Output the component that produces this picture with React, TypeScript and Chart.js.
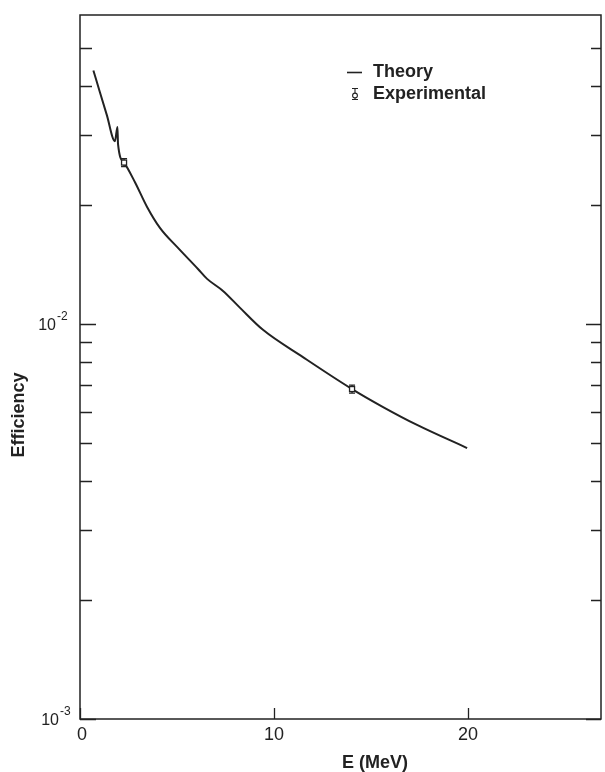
import React, { useEffect, useRef } from "react";
import { Chart, registerables } from "chart.js";

Chart.register(...registerables);

// Theory curve (E in MeV, efficiency)
const theoryE = [0.69, 1.03, 1.38, 1.80, 1.93, 1.96, 2.27, 2.84, 3.45, 4.12, 5.05, 6.08, 6.55, 7.37, 8.25, 9.43, 11.49, 14.02, 15.62, 17.37, 19.95];
const theoryEff = [0.0438, 0.0385, 0.0338, 0.0290, 0.0315, 0.0285, 0.0256, 0.0228, 0.0198, 0.0175, 0.01557, 0.01377, 0.0130, 0.01212, 0.01098, 0.00966, 0.00824, 0.00684, 0.00616, 0.00555, 0.00485];

// Experimental points
const expE = [2.27, 14.02];
const expEff = [0.0256, 0.00684];
const expErr = [0.00045, 0.00012];

// Axis ticks
const xTicks = [0, 10, 20];
const xTickLabels = ["0", "10", "20"];
const yMajor = [0.001, 0.01];
const yMajorExp = ["-3", "-2"];
const yMinor = [0.002, 0.003, 0.004, 0.005, 0.006, 0.007, 0.008, 0.009, 0.02, 0.03, 0.04, 0.05];

const INK = "#222";
const FONT = "'Liberation Sans', Arial, Helvetica, sans-serif";

const framePlugin = {
  id: "frame",
  afterDatasetsDraw(chart: any) {
    const { ctx, scales } = chart;
    const x = scales.x, y = scales.y;
    ctx.save();
    ctx.strokeStyle = INK;
    ctx.fillStyle = "#fff";
    ctx.lineWidth = 1.3;
    for (let i = 0; i < expE.length; i++) {
      const px = x.getPixelForValue(expE[i]);
      const py = y.getPixelForValue(expEff[i]);
      const top = y.getPixelForValue(expEff[i] + expErr[i]);
      const bot = y.getPixelForValue(expEff[i] - expErr[i]);
      ctx.beginPath();
      ctx.moveTo(px, top - 1); ctx.lineTo(px, bot + 1);
      ctx.moveTo(px - 3, top - 1); ctx.lineTo(px + 3, top - 1);
      ctx.moveTo(px - 3, bot + 1); ctx.lineTo(px + 3, bot + 1);
      ctx.stroke();
      ctx.fillRect(px - 2.5, py - 2.5, 5, 5);
      ctx.strokeRect(px - 2.5, py - 2.5, 5, 5);
    }
    ctx.restore();
  },
  afterDraw(chart: any) {
    const { ctx, chartArea: a, scales } = chart;
    const x = scales.x, y = scales.y;
    ctx.save();
    ctx.strokeStyle = INK;
    ctx.lineWidth = 1.5;
    ctx.strokeRect(a.left, a.top, a.right - a.left, a.bottom - a.top);
    ctx.lineWidth = 1.3;
    ctx.beginPath();
    for (const v of yMinor) {
      const py = Math.round(y.getPixelForValue(v)) + 0.5;
      ctx.moveTo(a.left, py); ctx.lineTo(a.left + 12, py);
      ctx.moveTo(a.right, py); ctx.lineTo(a.right - 10, py);
    }
    for (const v of yMajor) {
      const py = Math.round(y.getPixelForValue(v)) + 0.5;
      ctx.moveTo(a.left, py); ctx.lineTo(a.left + 16, py);
      ctx.moveTo(a.right, py); ctx.lineTo(a.right - 15, py);
    }
    for (const v of xTicks) {
      const px = Math.round(x.getPixelForValue(v)) + 0.5;
      ctx.moveTo(px, a.bottom); ctx.lineTo(px, a.bottom - 11);
    }
    ctx.stroke();

    ctx.fillStyle = INK;
    // y tick labels with superscripts
    for (let i = 0; i < yMajor.length; i++) {
      const py = y.getPixelForValue(yMajor[i]);
      ctx.font = `16px ${FONT}`;
      ctx.textAlign = "right";
      ctx.textBaseline = "middle";
      const baseRight = i === 0 ? a.left - 21 : a.left - 24;
      ctx.fillText("10", baseRight, py + 2);
      ctx.font = `12px ${FONT}`;
      ctx.textAlign = "left";
      ctx.fillText(yMajorExp[i], baseRight + 1, py - 7);
    }
    // x tick labels
    ctx.font = `18px ${FONT}`;
    ctx.textAlign = "center";
    ctx.textBaseline = "middle";
    for (let i = 0; i < xTicks.length; i++) {
      const px = x.getPixelForValue(xTicks[i]);
      ctx.fillText(xTickLabels[i], px + (i === 0 ? 2 : 0), a.bottom + 16);
    }
    // axis titles
    ctx.font = `bold 18px ${FONT}`;
    ctx.fillText("E (MeV)", 375, 763);
    ctx.save();
    ctx.translate(19, 415);
    ctx.rotate(-Math.PI / 2);
    ctx.fillText("Efficiency", 0, 0);
    ctx.restore();

    // legend
    ctx.textAlign = "left";
    ctx.font = `bold 18px ${FONT}`;
    ctx.fillText("Theory", 373, 72);
    ctx.fillText("Experimental", 373, 94);
    ctx.lineWidth = 1.6;
    ctx.beginPath();
    ctx.moveTo(347, 72.5); ctx.lineTo(362, 72.5);
    ctx.stroke();
    ctx.lineWidth = 1.1;
    ctx.beginPath();
    ctx.moveTo(352, 88.5); ctx.lineTo(358, 88.5);
    ctx.moveTo(352, 99.5); ctx.lineTo(358, 99.5);
    ctx.moveTo(355, 88.5); ctx.lineTo(355, 93);
    ctx.moveTo(355, 98); ctx.lineTo(355, 99.5);
    ctx.stroke();
    ctx.beginPath();
    ctx.arc(355, 95.5, 2.4, 0, Math.PI * 2);
    ctx.stroke();
    ctx.restore();
  },
};

export default function App() {
  const ref = useRef<HTMLCanvasElement>(null);
  useEffect(() => {
    if (!ref.current) return;
    const chart = new Chart(ref.current, {
      type: "scatter",
      data: {
        datasets: [
          {
            label: "Theory",
            data: theoryE.map((e, i) => ({ x: e, y: theoryEff[i] })),
            showLine: true,
            borderColor: INK,
            borderWidth: 2,
            pointRadius: 0,
            cubicInterpolationMode: "monotone",
            fill: false,
          } as any,
        ],
      },
      options: {
        animation: false,
        responsive: false,
        layout: { padding: { left: 80, top: 15, right: 4, bottom: 53 } },
        plugins: { legend: { display: false }, tooltip: { enabled: false } },
        scales: {
          x: { type: "linear", min: 0, max: 26.85, display: false },
          y: { type: "logarithmic", min: 0.001, max: 0.0605, display: false },
        },
      },
      plugins: [framePlugin],
    });
    return () => chart.destroy();
  }, []);
  return (
    <div style={{ position: "absolute", left: 0, top: 0, width: 605, height: 772, background: "#fff" }}>
      <canvas ref={ref} width={605} height={772} />
    </div>
  );
}
